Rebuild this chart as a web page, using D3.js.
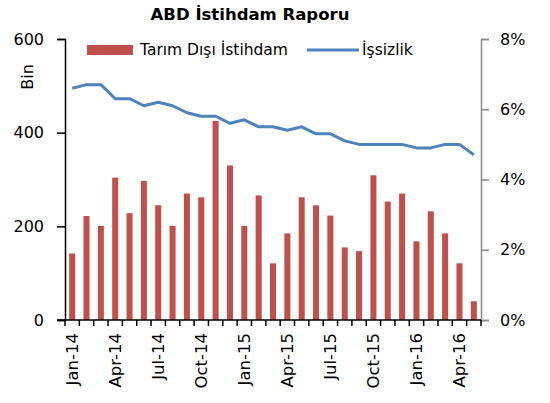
<!DOCTYPE html>
<html><head><meta charset="utf-8">
<script src="https://cdn.jsdelivr.net/npm/d3@7"></script>
<style>body{margin:0;background:#fff}svg{display:block;font-family:"DejaVu Sans",sans-serif}</style>
</head><body>
<svg id="c" width="550" height="403"></svg>
<script>
const months = ["Jan-14","Feb-14","Mar-14","Apr-14","May-14","Jun-14","Jul-14","Aug-14","Sep-14","Oct-14","Nov-14","Dec-14",
"Jan-15","Feb-15","Mar-15","Apr-15","May-15","Jun-15","Jul-15","Aug-15","Sep-15","Oct-15","Nov-15","Dec-15",
"Jan-16","Feb-16","Mar-16","Apr-16","May-16"];
const payrolls = [142,222,201,304,228,297,245,201,270,262,425,330,201,266,121,185,262,245,223,155,147,309,253,270,168,232,185,121,40];
const unemployment = [6.6,6.7,6.7,6.3,6.3,6.1,6.2,6.1,5.9,5.8,5.8,5.6,5.7,5.5,5.5,5.4,5.5,5.3,5.3,5.1,5.0,5.0,5.0,5.0,4.9,4.9,5.0,5.0,4.7];
const leftTicks = [0,200,400,600];
const rightTicks = [0,2,4,6,8];
const labelMonths = ["Jan-14","Apr-14","Jul-14","Oct-14","Jan-15","Apr-15","Jul-15","Oct-15","Jan-16","Apr-16"];

const svg = d3.select("#c");
const L = 65, R = 481, T = 39, B = 320;
const x = d3.scaleBand().domain(months).range([L, R]).paddingInner(0.58).paddingOuter(0.29);
const xb = d3.scaleBand().domain(months).range([L, R]);
const yL = d3.scaleLinear().domain([0,600]).range([B, T]);
const yR = d3.scaleLinear().domain([0,8]).range([B, T]);

svg.append("text").attr("x", 250).attr("y", 20).attr("text-anchor","middle")
  .attr("font-size", 16.5).attr("font-weight","bold").text("ABD İstihdam Raporu");

// bars
svg.append("g").selectAll("rect").data(payrolls).join("rect")
  .attr("x", (d,i)=>x(months[i])).attr("width", x.bandwidth())
  .attr("y", d=>yL(d)).attr("height", d=>B - yL(d)).attr("fill","#C0504D");

// line
const line = d3.line().x((d,i)=>xb(months[i]) + xb.bandwidth()/2).y(d=>yR(d));
svg.append("path").datum(unemployment).attr("d", line).attr("fill","none")
  .attr("stroke","#4F81BD").attr("stroke-width",3).attr("stroke-linejoin","round");

// left axis
const gl = svg.append("g").attr("transform",`translate(${L},0)`)
  .call(d3.axisLeft(yL).tickValues(leftTicks).tickSize(8).tickPadding(13).tickFormat(d3.format("d")));
gl.select(".domain").attr("stroke","#000").attr("stroke-width",1.5);
gl.selectAll(".tick line").attr("stroke","#000").attr("stroke-width",1.5);
gl.selectAll("text").attr("font-size",16).attr("fill","#000").attr("font-family","DejaVu Sans");

// right axis
const gr = svg.append("g").attr("transform",`translate(${R},0)`)
  .call(d3.axisRight(yR).tickValues(rightTicks).tickSize(8).tickPadding(11).tickFormat(d=>d+"%"));
gr.select(".domain").attr("stroke","#888").attr("stroke-width",1.5);
gr.selectAll(".tick line").attr("stroke","#888").attr("stroke-width",1.5);
gr.selectAll("text").attr("font-size",16).attr("fill","#000").attr("font-family","DejaVu Sans");

// x axis
const gx = svg.append("g").attr("transform",`translate(0,${B})`);
gx.append("line").attr("x1",L-8).attr("x2",R).attr("y1",0).attr("y2",0).attr("stroke","#000").attr("stroke-width",1.5);
gx.selectAll("line.t").data(months.concat(["end"])).join("line").attr("class","t")
  .attr("x1",(d,i)=>L + i*xb.step()).attr("x2",(d,i)=>L + i*xb.step())
  .attr("y1",0).attr("y2",6).attr("stroke","#000").attr("stroke-width",1.5);
gx.selectAll("text").data(labelMonths).join("text")
  .attr("transform", d=>`translate(${xb(d)+xb.bandwidth()/2+5.5},13) rotate(-90)`)
  .attr("text-anchor","end").attr("font-size",16.5).text(d=>d);

// y-label
svg.append("text").attr("transform","translate(33,77) rotate(-90)").attr("text-anchor","middle")
  .attr("font-size",16).text("Bin");

// legend
svg.append("rect").attr("x",87).attr("y",45).attr("width",46).attr("height",10).attr("fill","#C0504D");
svg.append("text").attr("x",140).attr("y",55).attr("font-size",15.5).text("Tarım Dışı İstihdam");
svg.append("line").attr("x1",307).attr("x2",359).attr("y1",50).attr("y2",50).attr("stroke","#4F81BD").attr("stroke-width",3);
svg.append("text").attr("x",362).attr("y",55).attr("font-size",15.5).text("İşsizlik");
</script>
</body></html>
